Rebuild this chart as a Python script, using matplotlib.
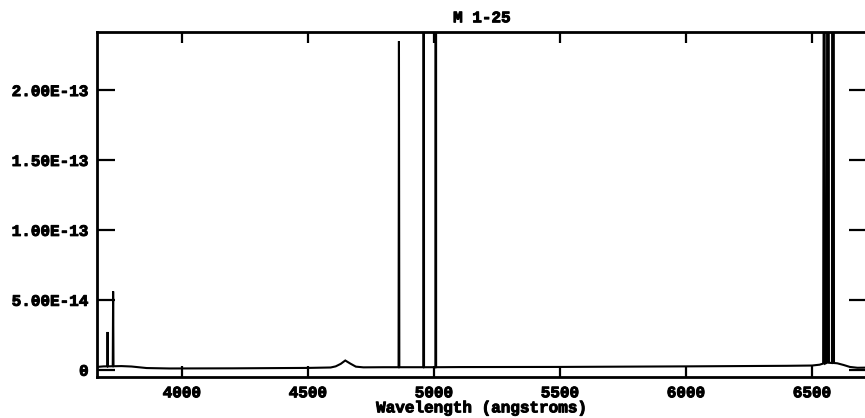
import matplotlib
matplotlib.use("Agg")
import matplotlib.pyplot as plt
import matplotlib.patheffects as pe
from matplotlib.ticker import FuncFormatter, MultipleLocator

# --- spectrum of M 1-25 (flux vs wavelength) ---
title = "M 1-25"

# smooth continuum, read at a handful of wavelengths
cont_wave = [3663, 3690, 3760, 3800, 3860, 3950, 4200, 4500, 4590,
             4720, 4800, 5100, 5500, 6000, 6400, 6500, 6530]
cont_flux = [2.0e-15, 2.4e-15, 2.6e-15, 2.3e-15, 1.2e-15, 0.9e-15, 1.0e-15, 1.3e-15, 1.6e-15,
             1.7e-15, 1.8e-15, 1.9e-15, 2.0e-15, 2.4e-15, 2.8e-15, 3.0e-15, 3.6e-15]

# broad stellar bump near 4650 A
bump_wave = [4610, 4630, 4648, 4668, 4690]
bump_flux = [2.4e-15, 4.2e-15, 6.6e-15, 4.4e-15, 2.2e-15]

# broad base under the H-alpha / [N II] complex
base_wave = [6600, 6625, 6650, 6680, 6720]
base_flux = [4.6e-15, 3.4e-15, 2.0e-15, 1.4e-15, 1.5e-15]

# emission lines: centre, peak flux, half width, local continuum
line_wave = [3705, 3727, 4861, 4959, 5007, 6548, 6563, 6583]
line_peak = [2.7e-14, 5.6e-14, 2.35e-13, 8.0e-13, 2.4e-12, 5.0e-13, 1.3e-12, 1.4e-12]
line_hw = [1.5, 1.5, 1.5, 1.5, 1.5, 4.0, 4.0, 4.0]
line_base = [2.4e-15, 2.5e-15, 1.8e-15, 1.8e-15, 1.8e-15, 4.4e-15, 5.0e-15, 4.8e-15]

# assemble one polyline
pts = list(zip(cont_wave, cont_flux)) + list(zip(bump_wave, bump_flux)) + list(zip(base_wave, base_flux))
for w, p, hw, b in zip(line_wave, line_peak, line_hw, line_base):
    pts += [(w - hw, b), (w, p), (w + hw, b)]
pts.sort()
wave = [p[0] for p in pts]
flux = [p[1] for p in pts]

plt.rcParams['font.family'] = ['Liberation Mono', 'DejaVu Sans Mono']
plt.rcParams['font.weight'] = 'bold'

fig = plt.figure(figsize=(8.65, 4.18), dpi=100)
ax = fig.add_axes([97 / 865, 41 / 418, 770 / 865, 345 / 418])

ax.plot(wave, flux, color="black", lw=1.5, solid_joinstyle="miter")

ax.set_xlim(3663, 6718)
ax.set_ylim(-5.2e-15, 2.415e-13)

ax.xaxis.set_major_locator(MultipleLocator(500))
ax.yaxis.set_major_locator(MultipleLocator(5e-14))
ax.yaxis.set_major_formatter(FuncFormatter(lambda v, pos: "0" if abs(v) < 1e-20 else "%.2E" % v))

for s in ax.spines.values():
    s.set_linewidth(2.0)
ax.tick_params(axis="x", which="major", direction="in", top=True, length=8, width=1.6,
               labelsize=11.5, pad=6)
ax.tick_params(axis="y", which="major", direction="in", right=True, length=13, width=1.6,
               labelsize=11.5, pad=6)

# heavier strokes for all the text
thick = [pe.withStroke(linewidth=0.7, foreground="black")]
for lbl in ax.get_xticklabels() + ax.get_yticklabels():
    lbl.set_fontweight("bold")
    lbl.set_path_effects(thick)

ax.set_title(title, fontsize=11.5, fontweight="bold", pad=7, path_effects=thick)
ax.set_xlabel("Wavelength (angstroms)", fontsize=11.5, fontweight="bold", labelpad=0,
              path_effects=thick)

fig.savefig("out.png", dpi=100)
